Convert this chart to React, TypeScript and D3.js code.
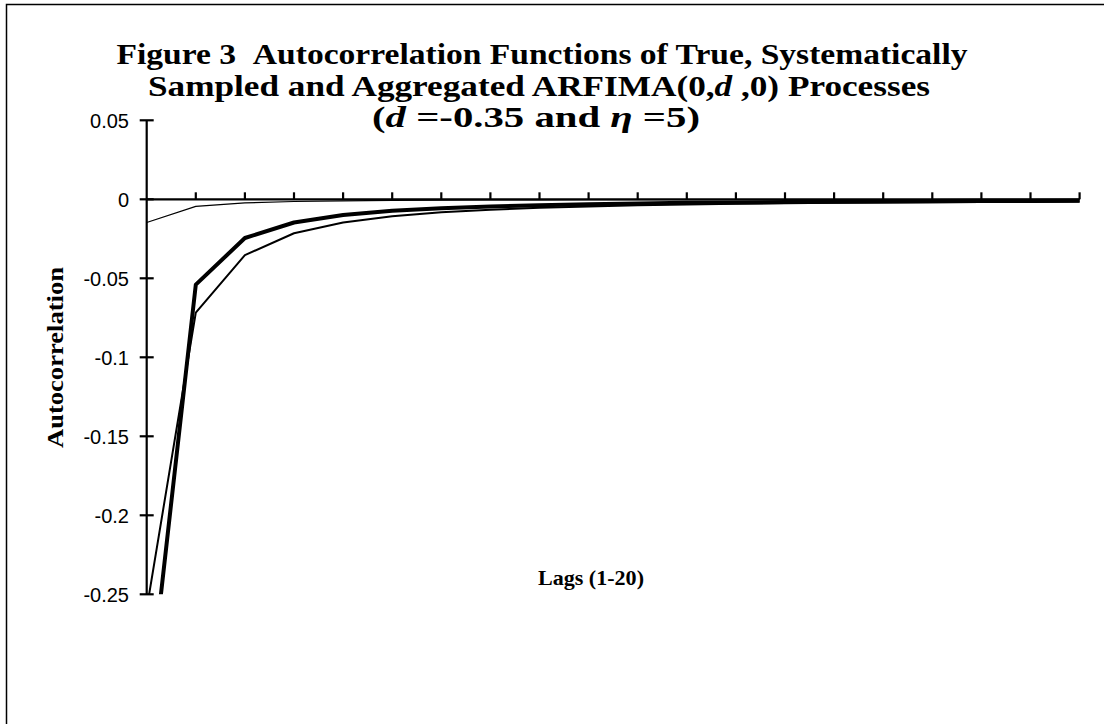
import React from "react";
import * as d3 from "d3";

const lags = [1, 2, 3, 4, 5, 6, 7, 8, 9, 10, 11, 12, 13, 14, 15, 16, 17, 18, 19, 20];
const trueAcf = [-0.2593, -0.0717, -0.0353, -0.0215, -0.0147, -0.01075, -0.00826, -0.00658, -0.00538, -0.0045, -0.00383, -0.0033, -0.00288, -0.00254, -0.00226, -0.00202, -0.00183, -0.00166, -0.00151, -0.00139];
const sampledAcf = [-0.0147, -0.0045, -0.00226, -0.00139, -0.00095, -0.0007, -0.00054, -0.00043, -0.00035, -0.00029, -0.00025, -0.00021, -0.00019, -0.00016, -0.00015, -0.00013, -0.00012, -0.00011, -0.0001, -0.00009];
const aggregatedAcf = [-0.33, -0.054, -0.0245, -0.0147, -0.0100, -0.0073, -0.0056, -0.0045, -0.0037, -0.0031, -0.0026, -0.0022, -0.002, -0.0017, -0.0015, -0.0014, -0.0012, -0.0011, -0.001, -0.0009];
const yTicks = [0.05, 0, -0.05, -0.1, -0.15, -0.2, -0.25];
const yTickLabels = ["0.05", "0", "-0.05", "-0.1", "-0.15", "-0.2", "-0.25"];

export default function App() {
  const x = d3.scaleLinear().domain([1, 20]).range([146.7, 1079.6]);
  const y = d3.scaleLinear().domain([-0.25, 0.05]).range([594.3, 120.3]);
  const line = (vals: number[]) =>
    d3.line<number>().x((_, i) => x(lags[i])).y((v) => y(v))(vals) || "";
  const x0 = x(1);
  const y0 = y(0);
  const serif = "'Liberation Serif', 'Times New Roman', serif";
  const sans = "'Liberation Sans', Arial, sans-serif";
  return (
    <svg
      width={1104}
      height={724}
      style={{ position: "absolute", left: 0, top: 0, background: "#fff" }}
    >
      <rect x={0} y={0} width={1104} height={724} fill="#fff" />
      <path d="M6.5,730 L6.5,4.5 L1110,4.5" fill="none" stroke="#000" strokeWidth={1.5} />
      <defs>
        <clipPath id="plot">
          <rect x={x0} y={y(0.05)} width={x(20) - x0 + 4} height={y(-0.25) - y(0.05)} />
        </clipPath>
      </defs>
      {/* title */}
      <g fontFamily={serif} fontWeight="bold" fontSize={29} textAnchor="middle" fill="#000">
        <text x={542} y={64} textLength={851} lengthAdjust="spacingAndGlyphs">
          Figure 3{"\u00a0\u00a0"}Autocorrelation Functions of True, Systematically
        </text>
        <text x={539} y={95.5} textLength={782} lengthAdjust="spacingAndGlyphs">
          Sampled and Aggregated ARFIMA(0,<tspan fontStyle="italic">d</tspan> ,0) Processes
        </text>
        <text x={536} y={127} textLength={328} lengthAdjust="spacingAndGlyphs">
          (<tspan fontStyle="italic">d</tspan> =-0.35 and <tspan fontStyle="italic">η</tspan> =5)
        </text>
      </g>
      {/* y axis */}
      <line x1={x0} x2={x0} y1={y(0.05)} y2={y(-0.25)} stroke="#000" strokeWidth={2.2} />
      {yTicks.map((t, i) => (
        <g key={i}>
          <line x1={x0 - 7} x2={x0 + 7} y1={y(t)} y2={y(t)} stroke="#000" strokeWidth={2.2} />
          <text
            x={129}
            y={y(t)}
            dy="0.36em"
            textAnchor="end"
            fontFamily={sans}
            fontSize={20}
            fill="#000"
          >
            {yTickLabels[i]}
          </text>
        </g>
      ))}
      {/* x axis */}
      <line x1={x0} x2={x(20)} y1={y0} y2={y0} stroke="#000" strokeWidth={2.2} />
      {lags.slice(1).map((l) => (
        <line key={l} x1={x(l)} x2={x(l)} y1={y0} y2={y0 - 7} stroke="#000" strokeWidth={2.2} />
      ))}
      {/* series */}
      <g clipPath="url(#plot)" fill="none" stroke="#000" strokeLinejoin="round">
        <path d={line(sampledAcf)} strokeWidth={1.2} />
        <path d={line(trueAcf)} strokeWidth={2} />
        <path d={line(aggregatedAcf)} strokeWidth={4} />
      </g>
      {/* axis labels */}
      <text
        transform={`translate(63,357.5) rotate(-90)`}
        textAnchor="middle"
        fontFamily={serif}
        fontWeight="bold"
        fontSize={23}
        textLength={181}
        lengthAdjust="spacingAndGlyphs"
        fill="#000"
      >
        Autocorrelation
      </text>
      <text
        x={591}
        y={585}
        textAnchor="middle"
        fontFamily={serif}
        fontWeight="bold"
        fontSize={21}
        textLength={106}
        lengthAdjust="spacingAndGlyphs"
        fill="#000"
      >
        Lags (1-20)
      </text>
    </svg>
  );
}
